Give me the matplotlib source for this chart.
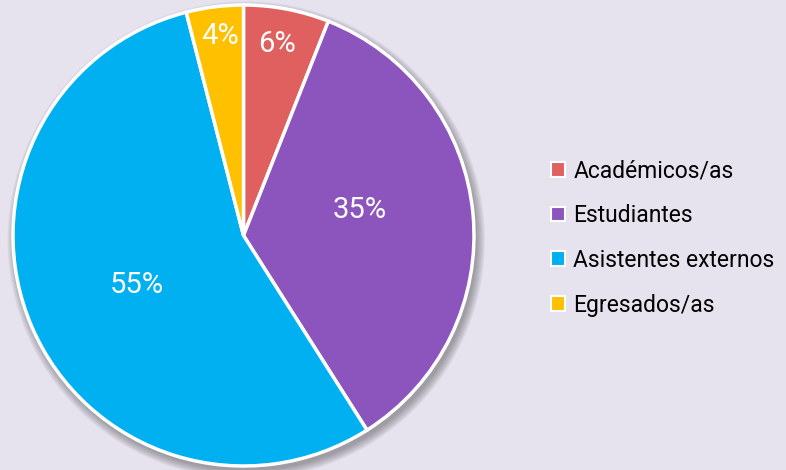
import matplotlib
matplotlib.use("Agg")
import matplotlib.pyplot as plt
from matplotlib.patches import Circle, Patch
import numpy as np

categories = ["Académicos/as", "Estudiantes", "Asistentes externos", "Egresados/as"]
values = [6, 35, 55, 4]
colors = ["#E06060", "#8C55BE", "#00B0F0", "#FFC000"]
# label placement (radius fraction, angular shift in degrees) - style only
label_dist = [0.845, 0.515, 0.51, 0.87]
label_shift = [-0.9, -7.0, -1.6, 0.4]

bg = "#E6E3EF"
W, H = 786, 470
fig = plt.figure(figsize=(W / 100, H / 100), dpi=100, facecolor=bg)
plt.rcParams['font.family'] = ['Roboto', 'DejaVu Sans']

cx, cy, R = 243.5, 235.5, 230.5
L = 1.05
ax = fig.add_axes([(cx - R * L) / W, (H - cy - R * L) / H, 2 * L * R / W, 2 * L * R / H])
ax.set_facecolor(bg)
ax.axis("off")

# soft shadow
for i in range(10):
    ax.add_patch(Circle((0.012, -0.02), 1.0 + i * 0.004, color="#505050",
                        alpha=0.06, lw=0, zorder=0))

wedges, _ = ax.pie(values, colors=colors, startangle=90, counterclock=False,
                   radius=1.0, wedgeprops=dict(edgecolor="white", linewidth=2.5))
for w in wedges:
    w.set_zorder(2)
ax.set_xlim(-L, L)
ax.set_ylim(-L, L)
ax.set_aspect("auto")

total = sum(values)
cum = 0
for v, d, s in zip(values, label_dist, label_shift):
    mid = (cum + v / 2) / total * 360 + s
    cum += v
    th = np.deg2rad(90 - mid)
    ax.text(d * np.cos(th), d * np.sin(th), f"{round(v / total * 100)}%",
            ha="center", va="center", color="white", fontsize=21, zorder=5)

handles = [Patch(facecolor=c, edgecolor="white", linewidth=1.5) for c in colors]
fig.legend(handles, categories, loc="center left",
           bbox_to_anchor=(551 / W, 1 - 238 / H), frameon=False,
           fontsize=16.5, handlelength=0.62, handleheight=0.62,
           handletextpad=0.35, labelspacing=0.95, borderpad=0, borderaxespad=0)

fig.savefig("out.png", dpi=100, facecolor=bg)
